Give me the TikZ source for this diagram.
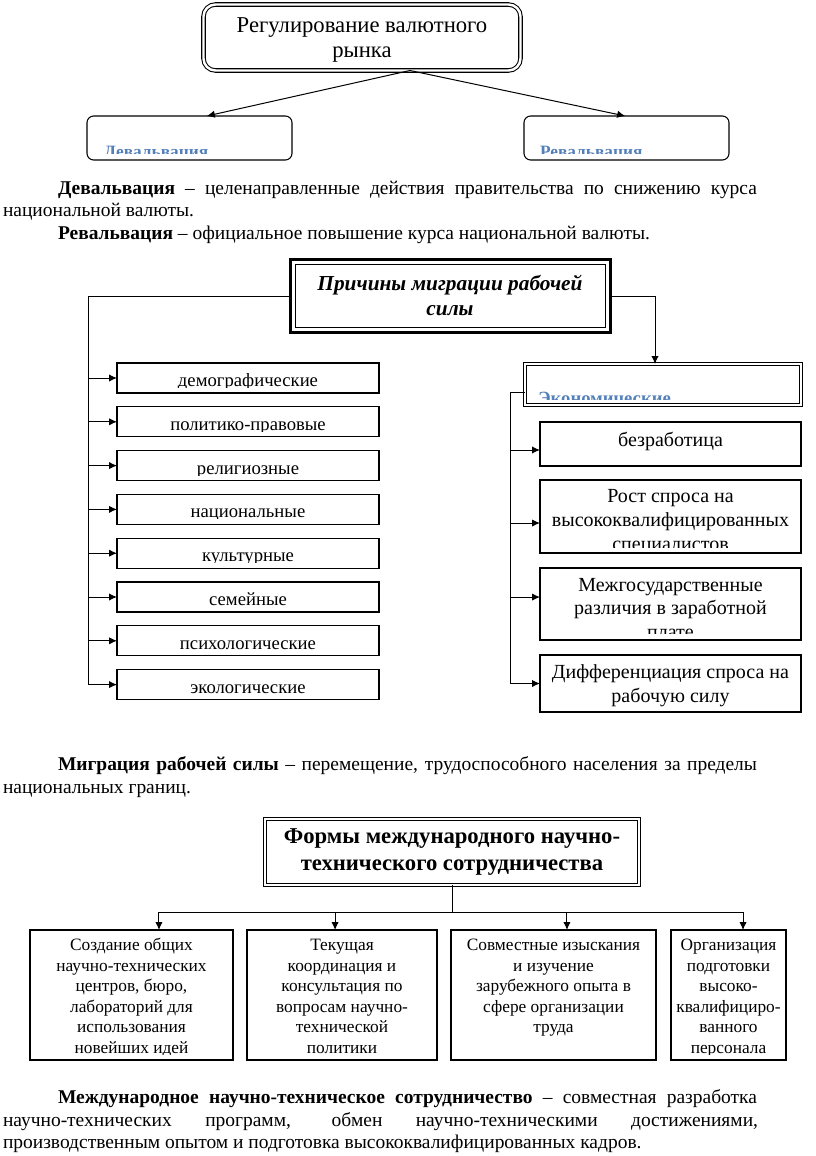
\documentclass[tikz,border=0pt]{standalone}
\usepackage{fontspec}
\setmainfont{Liberation Serif}
\usetikzlibrary{arrows.meta,fit}
\definecolor{hdblue}{RGB}{84,128,186}
\tikzset{
  every node/.style={outer sep=0pt},
  conn/.style={line width=0.75pt},
  arr/.style={line width=0.75pt,-{Latex[length=6pt,width=5.5pt]}},
  box/.style={draw,line width=0.8pt,inner sep=0pt},
  dbox/.style={box,double,double distance=1.6pt},
  tx/.style={inner sep=0pt,anchor=base},
  t12/.style={tx,font=\fontsize{13}{15}\selectfont},
  t14/.style={tx,font=\fontsize{14}{16}\selectfont},
  t15/.style={tx,font=\fontsize{15}{17}\selectfont},
  t16/.style={tx,font=\fontsize{17}{19}\selectfont},
  hbf/.style={tx,font=\fontsize{17}{20}\selectfont\bfseries},
  hd/.style={inner sep=0pt,anchor=base west,text=hdblue,font=\fontsize{13}{15}\selectfont\bfseries},
  body/.style={inner sep=0pt,anchor=base west,font=\fontsize{14.6}{16.5}\selectfont},
}
\begin{document}
\begin{tikzpicture}[x=0.75pt,y=-0.75pt]
\useasboundingbox (0,0) rectangle (816,1156);

% ---------- Section 1 ----------
\node[box,double,double distance=1.8pt,rounded corners=9pt,fit={(203.5,4.5) (520.5,70.5)}] (reg) {};
\node[t16] (reg1) at (362,33) {Регулирование валютного};
\node[t16] (reg2) at (362,58) {рынка};
\node[box,rounded corners=5pt,fit={(87,116) (292,160)}] (dev) {};
\node[box,rounded corners=5pt,fit={(524,116) (729,160)}] (rev) {};
\draw[arr] ([xshift=36pt]reg.south) -- ([xshift=13pt]dev.north);
\draw[arr] ([xshift=36pt]reg.south) -- ([xshift=-1pt]rev.north);
\begin{scope}
  \clip (88,117) rectangle (291,153);
  \node[hd] (devt) at (104,157.5) {Девальвация};
\end{scope}
\begin{scope}
  \clip (525,117) rectangle (728,153);
  \node[hd] (revt) at (540,157.5) {Ревальвация};
\end{scope}

\node[body] (p1a) at (58,194) {\makebox[524.25pt][s]{\textbf{Девальвация} – целенаправленные действия правительства по снижению курса}};
\node[body] (p1b) at (3,216) {национальной валюты.};
\node[body] (p1c) at (58,239) {\textbf{Ревальвация} – официальное повышение курса национальной валюты.};

% ---------- Section 2 ----------
\node[draw,line width=2.6pt,inner sep=0pt,fit={(290.75,259.75) (610.25,332.25)}] (pr) {};
\draw[line width=0.75pt] ([shift={(5,5)}]pr.north west) rectangle ([shift={(-5,-5)}]pr.south east);
\node[tx,font=\fontsize{16}{18}\selectfont\bfseries\itshape] (pr1) at (450,290) {Причины миграции рабочей};
\node[tx,font=\fontsize{16}{18}\selectfont\bfseries\itshape] (pr2) at (450,315) {силы};

\coordinate (lsp) at (88,296);
\foreach \i/\c/\t in {1/378/демографические,2/421.8/политико-правовые,3/465.6/религиозные,4/509.4/национальные,5/553.2/культурные,6/597/семейные,7/640.8/психологические,8/684.6/экологические}{
  \node[box,fit={(117,{\c-15}) (379,{\c+15})}] (l\i) {};
  \begin{scope}
    \clip (118,{\c-14}) rectangle (378,{\c+9.5});
    \node[t14] (lt\i) at (248,{\c+8.5}) {\t};
  \end{scope}
  \draw[arr] (lsp |- l\i.west) -- (l\i.west);
}
\draw[conn] (pr.west) -- (lsp) -- (lsp |- l8.west);

\coordinate (rt) at (655,296);
\node[dbox,fit={(525,364) (801,405)}] (eco) {};
\draw[arr] (pr.east) -- (rt) -- (rt |- eco.north);
\begin{scope}
  \clip (527,366) rectangle (799,399);
  \node[hd,font=\fontsize{14}{16}\selectfont\bfseries] (ecot) at (538,404) {Экономические};
\end{scope}

\node[box,fit={(540,422) (801,466)}] (r1) {};
\node[box,fit={(540,480) (801,553)}] (r2) {};
\node[box,fit={(540,568) (801,640)}] (r3) {};
\node[box,fit={(540,655) (801,712)}] (r4) {};
\coordinate (a1) at ([yshift=-4.5pt]r1.west);
\coordinate (a2) at ([yshift=-4.9pt]r2.west);
\coordinate (a3) at ([yshift=5.2pt]r3.west);
\coordinate (rsp) at (510,392);
\draw[conn] (eco.west |- rsp) -- (rsp) -- (rsp |- r4.west);
\draw[arr] (rsp |- r4.west) -- (r4.west);
\draw[arr] (rsp |- a1) -- (a1);
\draw[arr] (rsp |- a2) -- (a2);
\draw[arr] (rsp |- a3) -- (a3);

\node[t15] (r1a) at (670.5,446) {безработица};
\node[t15] (r2a) at (670.5,502) {Рост спроса на};
\node[t15] (r2b) at (670.5,526) {высококвалифицированных};
\begin{scope}
  \clip (541,481) rectangle (800,547);
  \node[t15] (r2c) at (670.5,550) {специалистов};
\end{scope}
\node[t15] (r3a) at (670.5,591) {Межгосударственные};
\node[t15] (r3b) at (670.5,614.5) {различия в заработной};
\begin{scope}
  \clip (541,569) rectangle (800,633);
  \node[t15] (r3c) at (670.5,638) {плате};
\end{scope}
\node[t15] (r4a) at (670.5,678.5) {Дифференциация спроса на};
\node[t15] (r4b) at (670.5,702) {рабочую силу};

\node[body] (p2a) at (58,770) {\makebox[524.25pt][s]{\textbf{Миграция рабочей силы} – перемещение, трудоспособного населения за пределы}};
\node[body] (p2b) at (3,793) {национальных границ.};

% ---------- Section 3 ----------
\node[box,double,double distance=1.5pt,fit={(265,819) (639,885)}] (fm) {};
\node[hbf] (fm1) at (452,843) {Формы международного научно-};
\node[hbf] (fm2) at (452,870) {технического сотрудничества};

\node[box,fit={(30,930) (233,1060)}] (b1) {};
\node[box,fit={(247,930) (437,1060)}] (b2) {};
\node[box,fit={(451,930) (656,1060)}] (b3) {};
\node[box,fit={(671,930) (786,1060)}] (b4) {};
\coordinate (fj) at (452,912);
\draw[conn] (fm.south) -- (fj);
\draw[arr] (fj) -| ([xshift=20.6pt]b1.north);
\draw[arr] (fj) -| ([xshift=-5.2pt]b2.north);
\draw[arr] (fj) -| ([xshift=10.1pt]b3.north);
\draw[arr] (fj) -| ([xshift=10.9pt]b4.north);

\begin{scope}
  \clip (31,931) rectangle (232,1054);
  \node[t12] (b1a) at (131.5,950.5) {Создание общих};
  \node[t12] (b1b) at (131.5,971.1) {научно-технических};
  \node[t12] (b1c) at (131.5,991.7) {центров, бюро,};
  \node[t12] (b1d) at (131.5,1012.3) {лабораторий для};
  \node[t12] (b1e) at (131.5,1032.9) {использования};
  \node[t12] (b1f) at (131.5,1053.5) {новейших идей};
\end{scope}
\begin{scope}
  \clip (248,931) rectangle (436,1054);
  \node[t12] (b2a) at (342,950.5) {Текущая};
  \node[t12] (b2b) at (342,971.1) {координация и};
  \node[t12] (b2c) at (342,991.7) {консультация по};
  \node[t12] (b2d) at (342,1012.3) {вопросам научно-};
  \node[t12] (b2e) at (342,1032.9) {технической};
  \node[t12] (b2f) at (342,1053.5) {политики};
\end{scope}
\node[t12] (b3a) at (553.5,950.5) {Совместные изыскания};
\node[t12] (b3b) at (553.5,971.1) {и изучение};
\node[t12] (b3c) at (553.5,991.7) {зарубежного опыта в};
\node[t12] (b3d) at (553.5,1012.3) {сфере организации};
\node[t12] (b3e) at (553.5,1032.9) {труда};
\begin{scope}
  \clip (672,931) rectangle (785,1054);
  \node[t12] (b4a) at (728.5,950.5) {Организация};
  \node[t12] (b4b) at (728.5,971.1) {подготовки};
  \node[t12] (b4c) at (728.5,991.7) {высоко-};
  \node[t12] (b4d) at (728.5,1012.3) {квалифициро-};
  \node[t12] (b4e) at (728.5,1032.9) {ванного};
  \node[t12] (b4f) at (728.5,1053.5) {персонала};
\end{scope}

\node[body] (p3a) at (58,1103) {\makebox[524.25pt][s]{\textbf{Международное научно-техническое сотрудничество} – совместная разработка}};
\node[body] (p3b) at (3,1126) {\makebox[566.25pt][s]{научно-технических программ, обмен научно-техническими достижениями,}};
\node[body] (p3c) at (3,1148) {производственным опытом и подготовка высококвалифицированных кадров.};
\end{tikzpicture}
\end{document}
